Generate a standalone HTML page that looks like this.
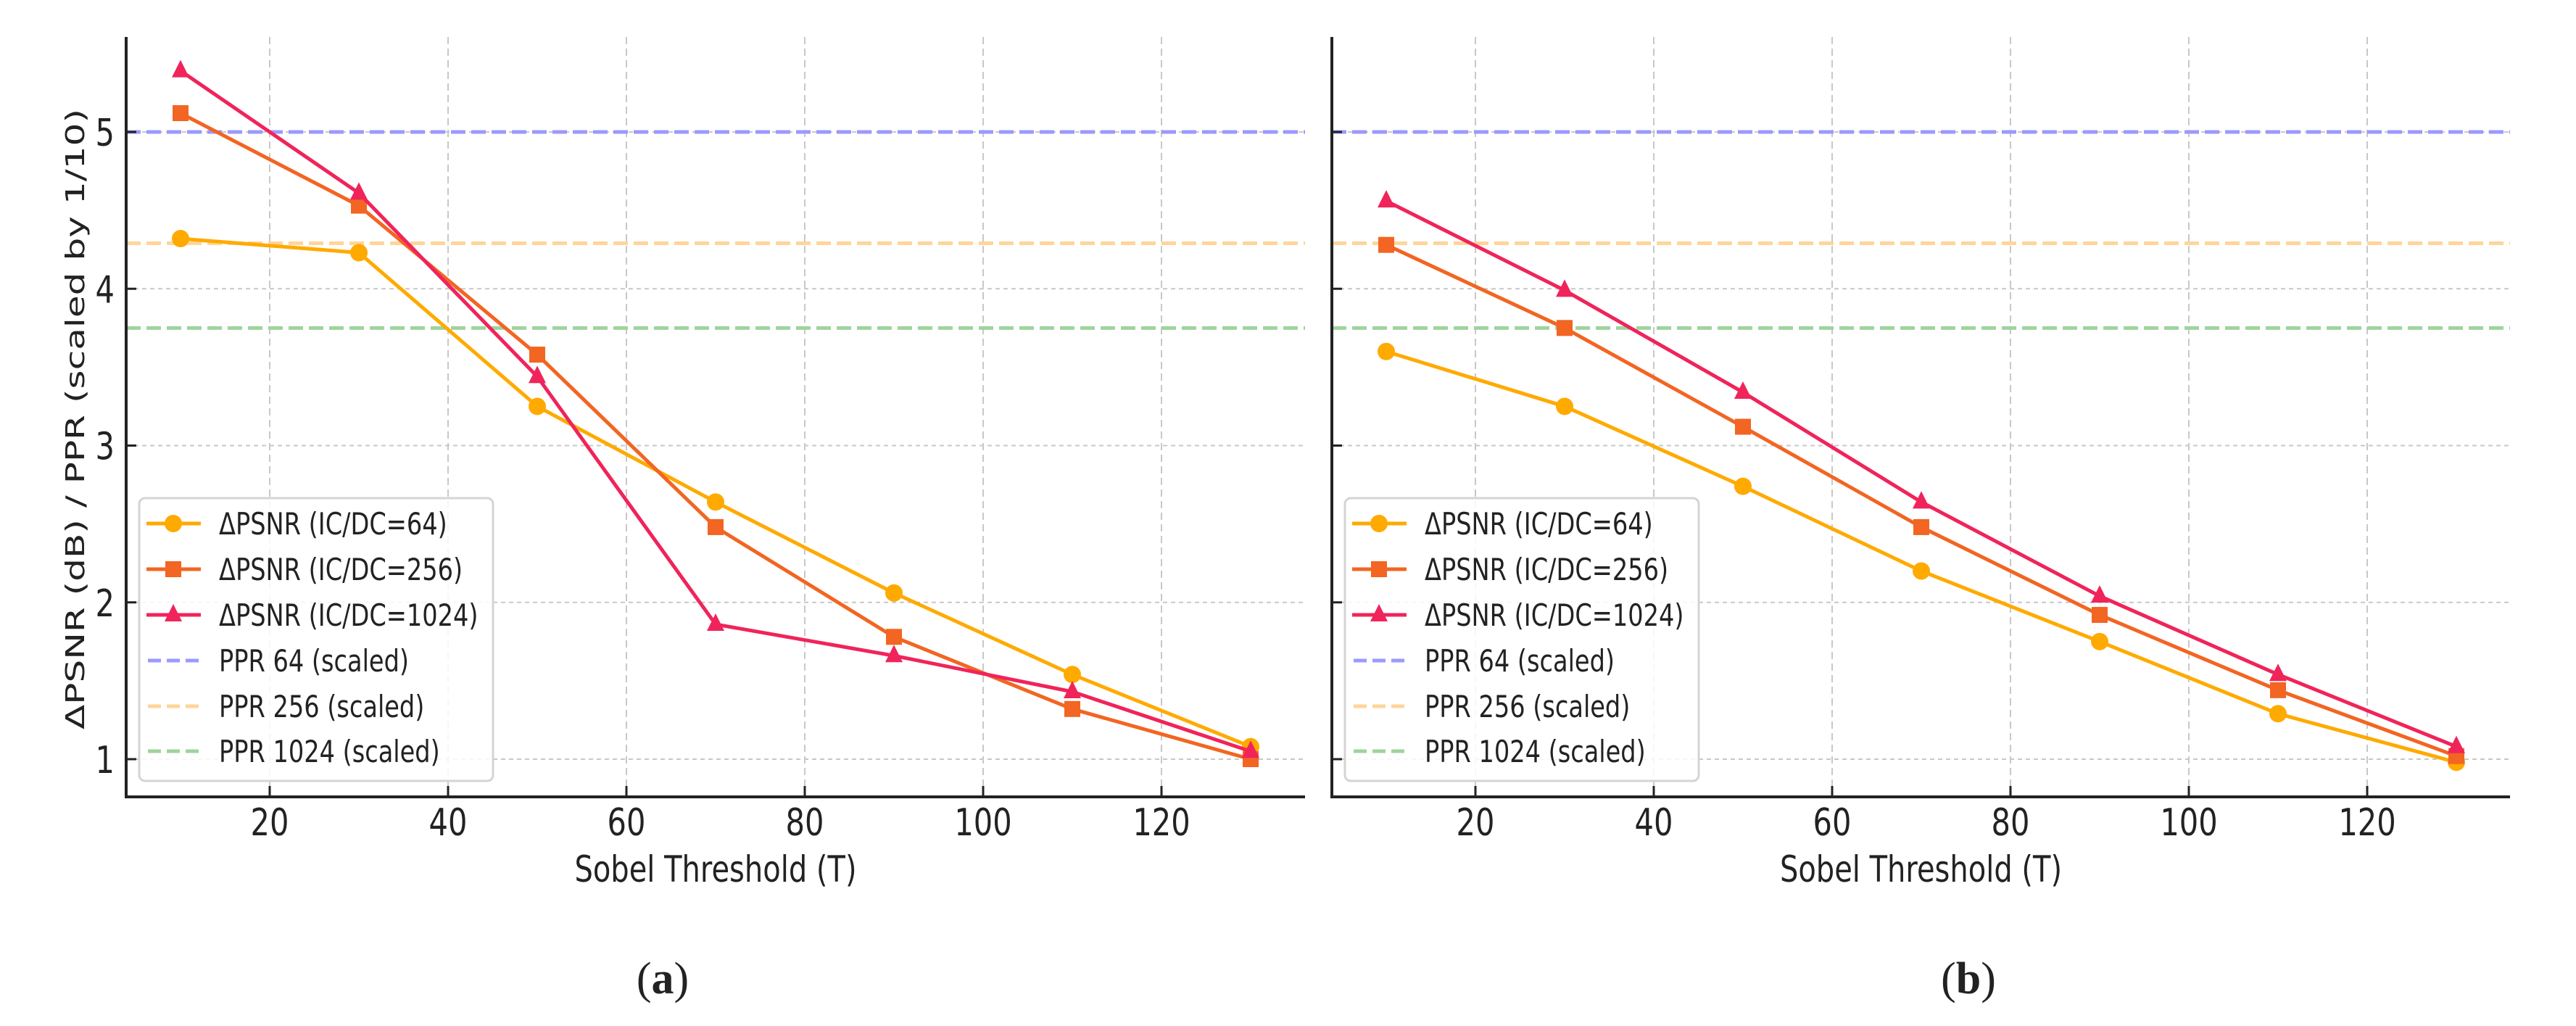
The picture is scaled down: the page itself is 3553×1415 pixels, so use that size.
<!DOCTYPE html>
<html><head><meta charset="utf-8"><style>
html,body{margin:0;padding:0;background:#fff;}
svg{display:block;}
text{font-family:"DejaVu Sans","Liberation Sans",sans-serif;fill:#222;}
</style></head><body>
<svg id="fig" width="3553" height="1415" viewBox="0 0 3553 1415" xmlns="http://www.w3.org/2000/svg"></svg>
<script>
const xValues = [10, 30, 50, 70, 90, 110, 130];
const seriesA64 = [4.32, 4.23, 3.25, 2.64, 2.06, 1.54, 1.08];
const seriesA256 = [5.12, 4.53, 3.58, 2.48, 1.78, 1.32, 1.00];
const seriesA1024 = [5.39, 4.61, 3.44, 1.86, 1.66, 1.43, 1.05];
const seriesB64 = [3.60, 3.25, 2.74, 2.20, 1.75, 1.29, 0.98];
const seriesB256 = [4.28, 3.75, 3.12, 2.48, 1.92, 1.44, 1.02];
const seriesB1024 = [4.56, 3.99, 3.34, 2.64, 2.04, 1.54, 1.08];
const pprValues = [5.0, 4.29, 3.75];
const xTicks = [20, 40, 60, 80, 100, 120];
const yTicks = [1, 2, 3, 4, 5];
const seriesLabels = ["ΔPSNR (IC/DC=64)", "ΔPSNR (IC/DC=256)", "ΔPSNR (IC/DC=1024)"];
const pprLabels = ["PPR 64 (scaled)", "PPR 256 (scaled)", "PPR 1024 (scaled)"];

const NS = "http://www.w3.org/2000/svg";
const svg = document.getElementById('fig');
const SX = 0.8;
function mk(tag, attrs, parent) {
  const e = document.createElementNS(NS, tag);
  for (const k in attrs) e.setAttribute(k, attrs[k]);
  (parent || svg).appendChild(e);
  return e;
}
function txt(str, x, y, size, anchor, parent, extra) {
  const g = mk('g', {transform: `translate(${x},${y}) scale(${SX},1)`}, parent);
  const t = mk('text', Object.assign({x: 0, y: 0, 'font-size': size, 'text-anchor': anchor}, extra || {}), g);
  t.textContent = str;
  return t;
}
const colors = ["#FFAA00", "#F26522", "#F0245A"];
const pprColors = ["#9a9aff", "#ffd59a", "#9ed49e"];
const markers = ["circle", "square", "triangle"];

function drawMarker(type, cx, cy, color, parent) {
  let m;
  if (type === 'circle') m = mk('circle', {cx: cx, cy: cy, r: 12, fill: color}, parent);
  else if (type === 'square') m = mk('rect', {x: cx - 11, y: cy - 11, width: 22, height: 22, fill: color}, parent);
  else m = mk('polygon', {points: `${cx},${cy - 15} ${cx + 12},${cy + 9} ${cx - 12},${cy + 9}`, fill: color}, parent);
  return m;
}

function panel(ox, rightX, data, name, labelChar, labelX, showYLabels) {
  const top = 51, bottom = 1099, left = ox;
  const xScale = v => ox + 198 + (v - 20) * 12.3;
  const yScale = v => 182 + (5 - v) * 216.25;
  const g = mk('g', {});
  
  
  xTicks.forEach(t => {
    const l = mk('line', {x1: xScale(t), x2: xScale(t), y1: top, y2: bottom, stroke: '#c8c8c8', 'stroke-width': 2, 'stroke-dasharray': '10,6'}, g);
    
    
  });
  yTicks.forEach(t => {
    const l = mk('line', {x1: left, x2: rightX, y1: yScale(t), y2: yScale(t), stroke: '#c8c8c8', 'stroke-width': 2, 'stroke-dasharray': '6,5'}, g);
    
    
  });
  pprValues.forEach((v, i) => {
    const l = mk('line', {x1: left, x2: rightX, y1: yScale(v), y2: yScale(v), stroke: pprColors[i], 'stroke-width': 5, 'stroke-dasharray': '20,8'}, g);
    
    
  });
  data.forEach((vals, i) => {
    const pts = vals.map((v, j) => `${xScale(xValues[j])},${yScale(v)}`).join(' ');
    const pl = mk('polyline', {points: pts, fill: 'none', stroke: colors[i], 'stroke-width': 5, 'stroke-linejoin': 'round'}, g);
    
    
    vals.forEach((v, j) => {
      const m = drawMarker(markers[i], xScale(xValues[j]), yScale(v), colors[i], g);
      
      
    });
  });
  const ax = mk('path', {d: `M${left},${top} L${left},${bottom} L${rightX},${bottom}`, fill: 'none', stroke: '#222', 'stroke-width': 4}, g);
  
  
  xTicks.forEach(t => {
    mk('line', {x1: xScale(t), x2: xScale(t), y1: bottom, y2: bottom - 15, stroke: '#222', 'stroke-width': 3}, g);
    const tl = txt(String(t), xScale(t), 1152, 52, 'middle', g);
    
    
  });
  yTicks.forEach(t => {
    mk('line', {x1: left, x2: left + 14, y1: yScale(t), y2: yScale(t), stroke: '#222', 'stroke-width': 3}, g);
    if (showYLabels) {
      const tl = txt(String(t), left - 16, yScale(t) + 19, 52, 'end', g);
      
      
    }
  });
  const xl = txt('Sobel Threshold (T)', (left + rightX) / 2, 1216, 50, 'middle', g);
  
  
  const lx = left + 18, ly = 687;
  const lg = mk('g', {}, g);
  
  
  mk('rect', {x: lx, y: ly, width: 488, height: 390, rx: 8, fill: 'rgba(255,255,255,0.85)', stroke: '#d4d4d4', 'stroke-width': 3}, lg);
  const rows = [722, 785, 848, 911, 974, 1036];
  seriesLabels.forEach((s, i) => {
    const e = mk('g', {}, lg);
    
    
    mk('line', {x1: lx + 10, x2: lx + 85, y1: rows[i], y2: rows[i], stroke: colors[i], 'stroke-width': 5}, e);
    drawMarker(markers[i], lx + 47, rows[i], colors[i], e);
    txt(s, lx + 110, rows[i] + 15, 42, 'start', e);
  });
  pprLabels.forEach((s, i) => {
    const e = mk('g', {}, lg);
    
    
    mk('line', {x1: lx + 12, x2: lx + 85, y1: rows[i + 3], y2: rows[i + 3], stroke: pprColors[i], 'stroke-width': 5, 'stroke-dasharray': '18,8'}, e);
    txt(s, lx + 110, rows[i + 3] + 15, 42, 'start', e);
  });
  const cap = mk('text', {x: labelX, y: 1370, 'font-size': 62, 'text-anchor': 'middle', style: 'font-family:"Liberation Serif",serif;'}, g);
  cap.innerHTML = '(<tspan font-weight="bold">' + labelChar + '</tspan>)';
  
  
}

panel(174, 1800, [seriesA64, seriesA256, seriesA1024], 'panel-a', 'a', 914, true);
panel(1837, 3462, [seriesB64, seriesB256, seriesB1024], 'panel-b', 'b', 2715, false);

const yg = mk('g', {transform: 'translate(116,578) scale(0.75,1) rotate(-90)'});
const yl = mk('text', {x: 0, y: 0, 'font-size': 48, 'text-anchor': 'middle', textLength: 856, lengthAdjust: 'spacingAndGlyphs'}, yg);
yl.textContent = 'ΔPSNR (dB) / PPR (scaled by 1/10)';


</script>
</body></html>
